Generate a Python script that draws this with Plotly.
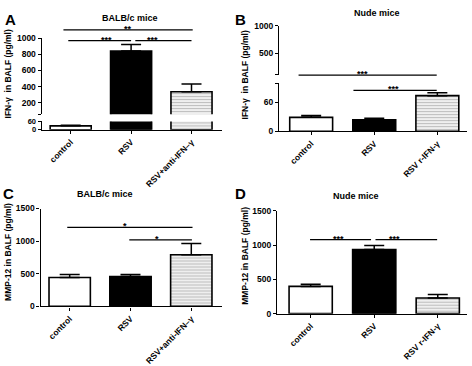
import plotly.graph_objects as go

# ---------------- data ----------------
groups_balbc = ["control", "RSV", "RSV+anti-IFN–γ"]
groups_nude = ["control", "RSV", "RSV r-IFN-γ"]

ifn_balbc_mean = [28, 840, 337]
ifn_balbc_sem = [5, 80, 98]

ifn_nude_mean = [29, 24, 74]
ifn_nude_sem = [4, 3, 6]

mmp_balbc_mean = [444, 459, 792]
mmp_balbc_sem = [45, 28, 172]

mmp_nude_mean = [397, 935, 228]
mmp_nude_sem = [30, 58, 50]

# ---------------- layout helpers ----------------
W, H = 472, 366


def xd(l, r):
    return [l / W, r / W]


def yd(t, b):
    return [1 - b / H, 1 - t / H]


FAM = "Liberation Sans, Arial, sans-serif"
FONT = dict(family=FAM, size=8, color="black", weight="bold")
TICKFONT = dict(family=FAM, size=8.5, color="black", weight="bold")
SMALLTICK = dict(family=FAM, size=7.5, color="black", weight="bold")

fills = ["white", "black", "white"]
patterns = ["", "", "-"]
BW = 0.68
XR = [-0.48, 2.5]

fig = go.Figure()


def add_bars(xa, ya, means, sems, rng):
    for i, (m, s) in enumerate(zip(means, sems)):
        show_err = rng[0] <= m <= rng[1]
        fig.add_trace(go.Bar(
            x=[i], y=[m], xaxis=xa, yaxis=ya, width=BW,
            marker=dict(color=fills[i], line=dict(color="black", width=1.6),
                        pattern=dict(shape=patterns[i], fgcolor="#7c7c7c", bgcolor="white",
                                     size=3, solidity=0.5)),
            error_y=dict(type="data", array=[s], arrayminus=[0], symmetric=False,
                         color="black", thickness=1.5, width=10, visible=show_err),
            showlegend=False, hoverinfo="skip"))


def yax(domain, rng, anchor, tv, tt, font=TICKFONT):
    return dict(domain=domain, range=rng, anchor=anchor, showline=True, linecolor="black",
                linewidth=1.3, ticks="outside", ticklen=3, tickwidth=1.2, tickcolor="black",
                tickvals=tv, ticktext=tt, showgrid=False, zeroline=False, tickfont=font,
                fixedrange=True)


def xax(domain, anchor, labels, visible=True, rng=XR):
    return dict(domain=domain, range=rng, anchor=anchor, showline=True, linecolor="black",
                linewidth=1.3, ticks="outside", ticklen=3, tickwidth=1.2, tickcolor="black",
                tickvals=[0, 1, 2], ticktext=labels, tickangle=-45, showgrid=False,
                zeroline=False, tickfont=TICKFONT, visible=visible, fixedrange=True)


# Panel A (broken axis): lower 0-60, upper 60-1000
A_lo_dom, A_lo_rng = yd(120.7, 129.3), [0, 60]
A_hi_dom, A_hi_rng = yd(34.3, 113.3), [60, 1000]
A_x = xd(41.7, 221.7)
# Panel B (broken axis): lower 0-100, upper 100-1000
B_lo_dom, B_lo_rng = yd(81, 131), [0, 100]
B_hi_dom, B_hi_rng = yd(21.7, 72.3), [100, 1000]
B_x = xd(279, 467)
B_xr = [-0.51, 2.47]
# Panel C
C_dom, C_rng = yd(211, 312.5), [0, 1500]
C_x = xd(40.5, 221.7)
# Panel D
D_dom, D_rng = yd(213.3, 320), [0, 1500]
D_x = xd(277, 467)
D_xr = [-0.53, 2.46]

add_bars("x", "y", ifn_balbc_mean, ifn_balbc_sem, A_lo_rng)
add_bars("x2", "y2", ifn_balbc_mean, ifn_balbc_sem, A_hi_rng)
add_bars("x3", "y3", ifn_nude_mean, ifn_nude_sem, B_lo_rng)
add_bars("x4", "y4", ifn_nude_mean, ifn_nude_sem, B_hi_rng)
add_bars("x5", "y5", mmp_balbc_mean, mmp_balbc_sem, C_rng)
add_bars("x6", "y6", mmp_nude_mean, mmp_nude_sem, D_rng)

fig.update_layout(
    xaxis=xax(A_x, "y", groups_balbc),
    yaxis=yax(A_lo_dom, A_lo_rng, "x", [0, 60], ["0", "60"], font=SMALLTICK),
    xaxis2=xax(A_x, "y2", groups_balbc, visible=False),
    yaxis2=yax(A_hi_dom, A_hi_rng, "x2", [60, 200, 400, 600, 800, 1000],
               ["", "200", "400", "600", "800", "1000"]),
    xaxis3=xax(B_x, "y3", groups_nude, rng=B_xr),
    yaxis3=yax(B_lo_dom, B_lo_rng, "x3", [0, 60, 100], ["0", "60", ""]),
    xaxis4=xax(B_x, "y4", groups_nude, visible=False, rng=B_xr),
    yaxis4=yax(B_hi_dom, B_hi_rng, "x4", [100, 500, 1000], ["", "500", "1000"]),
    xaxis5=xax(C_x, "y5", groups_balbc),
    yaxis5=yax(C_dom, C_rng, "x5", [0, 500, 1000, 1500], ["0", "500", "1000", "1500"]),
    xaxis6=xax(D_x, "y6", groups_nude, rng=D_xr),
    yaxis6=yax(D_dom, D_rng, "x6", [0, 500, 1000, 1500], ["0", "500", "1000", "1500"]),
)


def ypaper(dom, rng, v):
    return dom[0] + (v - rng[0]) / (rng[1] - rng[0]) * (dom[1] - dom[0])


# significance brackets: (xref, dom, rng, x0, x1, yval, label, label_x)
brackets = [
    ("x", A_hi_dom, A_hi_rng, -0.12, 2.02, 1102, "**", 0.95),
    ("x", A_hi_dom, A_hi_rng, -0.04, 1.0, 968, "***", 0.59),
    ("x", A_hi_dom, A_hi_rng, 1.07, 2.0, 968, "***", 1.36),
    ("x3", B_hi_dom, B_hi_rng, -0.2, 1.99, 94, "***", 0.82),
    ("x3", B_lo_dom, B_lo_rng, 0.67, 1.99, 85, "***", 1.31),
    ("x5", C_dom, C_rng, -0.04, 2.02, 1210, "*", 0.91),
    ("x5", C_dom, C_rng, 0.98, 2.01, 1020, "*", 1.43),
    ("x6", D_dom, D_rng, -0.01, 0.95, 1079, "***", 0.44),
    ("x6", D_dom, D_rng, 1.02, 1.99, 1079, "***", 1.32),
]

annotations = []
for xr, dom, rng, x0, x1, yv, lab, lx in brackets:
    yp = ypaper(dom, rng, yv)
    fig.add_shape(type="line", xref=xr, yref="paper", x0=x0, x1=x1, y0=yp, y1=yp,
                  line=dict(color="black", width=1.2))
    annotations.append(dict(xref=xr, yref="paper", x=lx, y=yp, text=lab, showarrow=False,
                            yanchor="top", yshift=7, borderpad=0,
                            font=dict(family=FAM, size=9, color="black", weight="bold")))

# panel letters
for t, x, y in [("A", 10, 15), ("B", 240, 15), ("C", 8, 195), ("D", 240, 195)]:
    annotations.append(dict(xref="paper", yref="paper", x=x / W, y=1 - y / H, text=t,
                            showarrow=False, xanchor="center", yanchor="middle",
                            font=dict(family=FAM, size=15, color="black", weight="bold")))

# panel titles
for t, x, y in [("BALB/c mice", 130, 13.5), ("Nude mice", 377, 8),
                ("BALB/c mice", 105, 196), ("Nude mice", 356, 198)]:
    annotations.append(dict(xref="paper", yref="paper", x=x / W, y=1 - y / H, text=t,
                            showarrow=False, xanchor="center", yanchor="middle", borderpad=0,
                            font=dict(family=FAM, size=9, color="black", weight="bold")))

# y-axis titles
for t, x, y in [("IFN-γ  in BALF (pg/ml)", 8, 72), ("IFN-γ  in BALF (pg/ml)", 245, 72),
                ("MMP-12 in BALF (pg/ml)", 8, 256), ("MMP-12 in BALF (pg/ml)", 245, 260)]:
    annotations.append(dict(xref="paper", yref="paper", x=x / W, y=1 - y / H, text=t,
                            textangle=-90, showarrow=False, xanchor="center",
                            yanchor="middle", font=dict(family=FAM, size=8.5, color="black",
                                                        weight="bold")))

fig.update_layout(
    width=W, height=H, margin=dict(l=0, r=0, t=0, b=0),
    paper_bgcolor="white", plot_bgcolor="white",
    annotations=annotations, barmode="overlay", showlegend=False,
    font=FONT,
)

fig.write_html("out.html", config={"displayModeBar": False},
               post_script="document.body.style.margin='0px';")
